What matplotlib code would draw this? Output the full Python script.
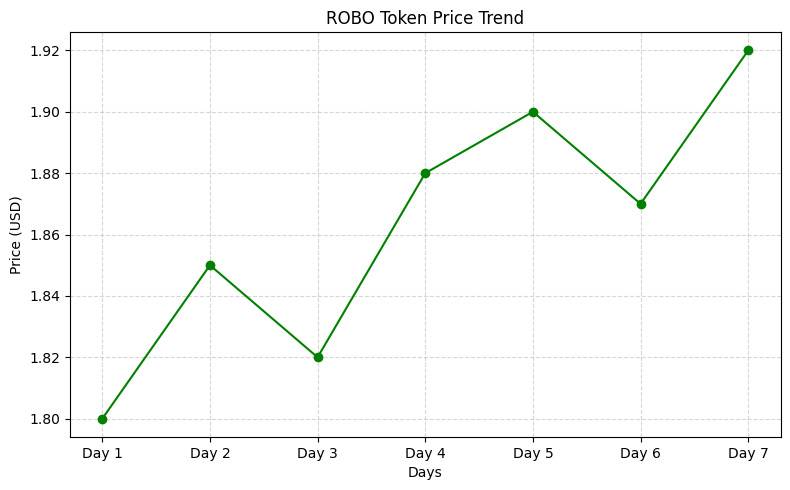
import matplotlib.pyplot as plt

# Price data for the week
days = ["Day 1", "Day 2", "Day 3", "Day 4", "Day 5", "Day 6", "Day 7"]
prices = [1.80, 1.85, 1.82, 1.88, 1.90, 1.87, 1.92]

fig, ax = plt.subplots(figsize=(7.9, 4.9), dpi=100)
ax.plot(days, prices, marker='o', color='green')
ax.set_title("ROBO Token Price Trend")
ax.set_xlabel("Days")
ax.set_ylabel("Price (USD)")
ax.grid(True, linestyle='--', alpha=0.5)

fig.subplots_adjust(left=0.0886, right=0.988, top=0.9347, bottom=0.108)
plt.savefig("out.png")
